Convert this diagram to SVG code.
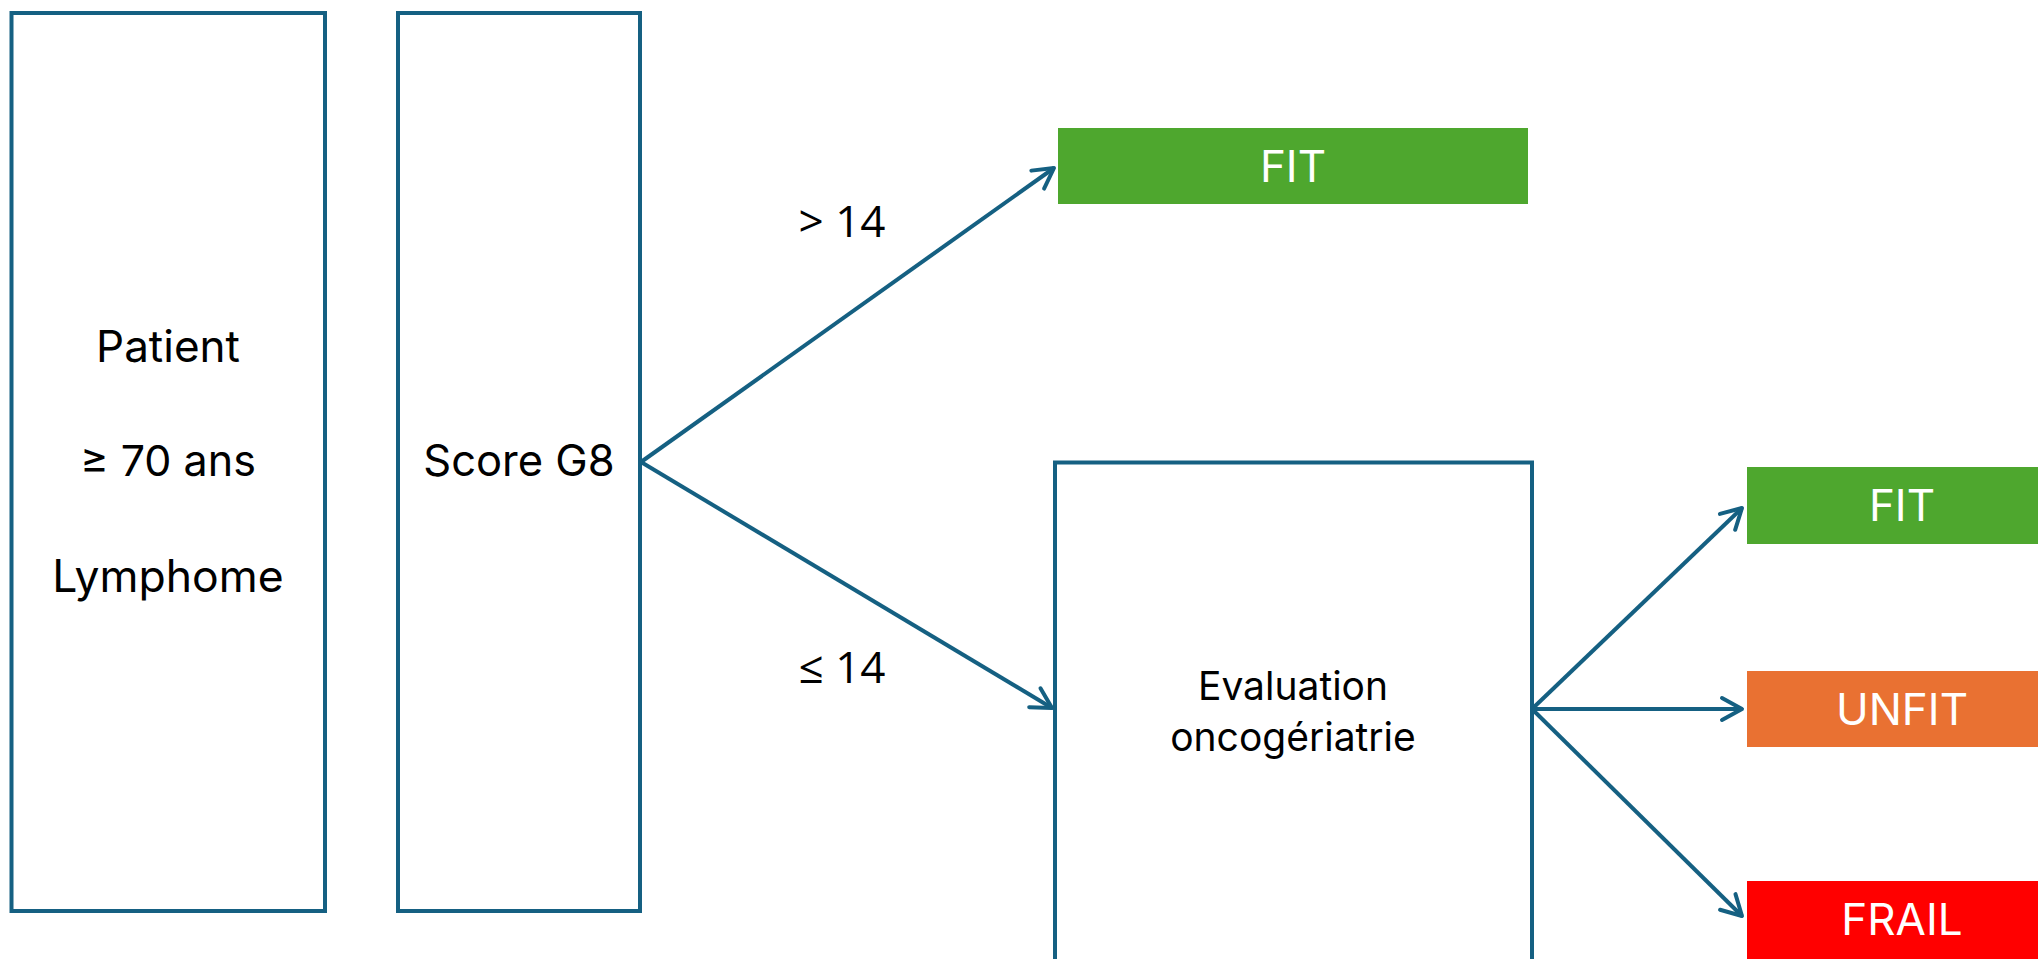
<svg xmlns="http://www.w3.org/2000/svg" width="2038" height="959" viewBox="0 0 2038 959">
<style>
.box{fill:#ffffff;stroke:#156082;stroke-width:4}
.t{font-family:Inter,"Liberation Sans",sans-serif;fill:#000000;text-anchor:middle}
.w{font-family:Inter,"Liberation Sans",sans-serif;fill:#ffffff;text-anchor:middle;font-size:44px}
.lbl{font-family:"Open Sans","Liberation Sans",sans-serif;fill:#000000;text-anchor:middle;font-size:44px}
.con{fill:none;stroke:#156082;stroke-width:4;marker-end:url(#arr)}
</style>
<defs>
<marker id="arr" viewBox="-26 -16 30 32" refX="0" refY="0" markerWidth="30" markerHeight="32" markerUnits="userSpaceOnUse" orient="auto">
<path d="M-20,-11 L0,0 L-20,11" fill="none" stroke="#156082" stroke-width="4" stroke-linecap="round" stroke-linejoin="round"/>
</marker>
</defs>
<rect width="2038" height="959" fill="#ffffff"/>
<g id="patient">
<rect class="box" x="11.5" y="13" width="313.5" height="898"/>
<text class="t" x="168" y="362" font-size="44">Patient</text>
<text class="t" x="168" y="476" font-size="43">≥ 70 ans</text>
<text class="t" x="168" y="592" font-size="44.5">Lymphome</text>
</g>
<g id="score">
<rect class="box" x="398" y="13" width="242" height="898"/>
<text class="t" x="519" y="476" font-size="43.5">Score G8</text>
</g>
<g id="fit1">
<rect x="1058" y="128" width="470" height="76" fill="#4EA72E"/>
<text class="w" x="1293" y="182">FIT</text>
</g>
<g id="evaluation">
<rect class="box" x="1055" y="462.5" width="477" height="520"/>
<text class="t" x="1293" y="700" font-size="39">Evaluation</text>
<text class="t" x="1293" y="751" font-size="39">oncogériatrie</text>
</g>
<g id="fit2">
<rect x="1747" y="467" width="310" height="77" fill="#4EA72E"/>
<text class="w" x="1902" y="521">FIT</text>
</g>
<g id="unfit">
<rect x="1747" y="671" width="310" height="76" fill="#E97132"/>
<text class="w" x="1902" y="725">UNFIT</text>
</g>
<g id="frail">
<rect x="1747" y="881" width="310" height="78" fill="#FF0000"/>
<text class="w" x="1902" y="935">FRAIL</text>
</g>
<g id="connectors">
<line class="con" x1="641" y1="462" x2="1054" y2="168"/>
<line class="con" x1="641" y1="462" x2="1052" y2="708"/>
<line class="con" x1="1532" y1="709" x2="1742" y2="508"/>
<line class="con" x1="1532" y1="709" x2="1742" y2="709"/>
<line class="con" x1="1532" y1="709" x2="1742" y2="916"/>
<text class="lbl" x="842" y="237">&gt; 14</text>
<text class="lbl" x="842" y="683">≤ 14</text>
</g>
</svg>
